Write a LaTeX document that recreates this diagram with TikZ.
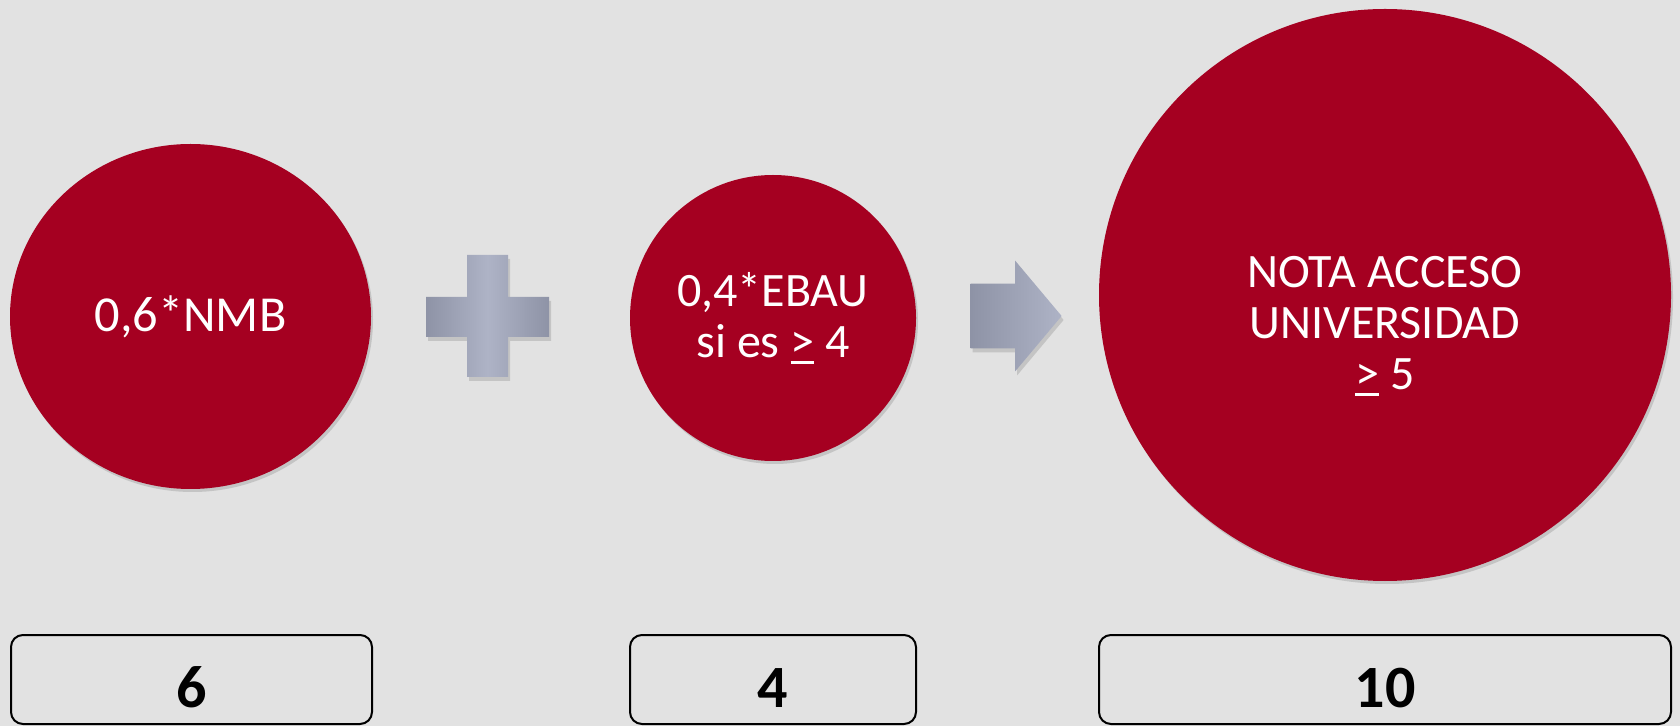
\documentclass[tikz,border=0pt]{standalone}
\usepackage{fontspec}
\setmainfont{Carlito}
\usepackage{xcolor}
\usetikzlibrary{positioning,shapes.geometric,shapes.arrows,shadows}
\definecolor{granate}{HTML}{A50021}
\definecolor{fondo}{HTML}{E2E2E2}
\definecolor{grisosc}{HTML}{8E93A6}
\definecolor{grisclaro}{HTML}{AEB3C6}
\newcommand{\subr}[1]{\setbox0=\hbox{#1}\rlap{\rule[-3.5pt]{\wd0}{1.5pt}}\box0\relax}

\begin{document}
\begin{tikzpicture}[x=.5pt,y=-.5pt,
  bola/.style={ellipse,fill=granate,inner sep=0pt,text=white,align=center,
    font=\fontsize{24}{25.5}\selectfont,
    drop shadow={shadow xshift=1pt,shadow yshift=-1.5pt,opacity=.3}},
  texto/.style={text=white,align=center,inner sep=0pt,font=\fontsize{24}{25.5}\selectfont},
  caja/.style={draw,line width=1pt,rounded corners=6pt,minimum height=44.5pt,
    inner sep=0pt,text height=27.5pt,text depth=0pt,font=\fontsize{30}{30}\selectfont\bfseries},
  gris/.style={left color=grisosc,right color=grisosc,middle color=grisclaro,
    drop shadow={shadow xshift=1pt,shadow yshift=-2pt,opacity=.3}}]
  \fill[fondo](0,0) rectangle (1680,726);
  \useasboundingbox (0,0) rectangle (1680,726);
  % circulos
  \node[bola,minimum width=180.5pt,minimum height=172.5pt,font=\fontsize{25.2}{25.5}\selectfont] at(190.5,316.5)(nmb){0,6*NMB};
  \node[bola,minimum width=143pt,minimum height=143pt] at(773,318)(ebau){0,4*EBAU\\si es \subr{>} 4};
  \node[bola,minimum width=286pt,minimum height=286pt] at(1385,295)(nota){};
  \node[texto] at(1385,326)(notatxt){NOTA ACCESO\\UNIVERSIDAD\\\subr{>} 5};
  % signo mas
  \path[gris](467,255) -- (508,255) -- (508,297) -- (549,297) -- (549,337) -- (508,337)
    -- (508,377) -- (467,377) -- (467,337) -- (426,337) -- (426,297) -- (467,297) -- cycle;
  % flecha
  \node[single arrow,inner xsep=0pt,inner ysep=16pt,minimum height=45.5pt,
    single arrow head extend=11.5pt,single arrow tip angle=100,
    left color=grisosc,right color=grisclaro,
    drop shadow={shadow xshift=1pt,shadow yshift=-2pt,opacity=.3}] at(1002.5,316)(paso){};
  % cajas
  \node[caja,minimum width=180.5pt] at(191.5,679.5)(seis){6};
  \node[caja,minimum width=143pt] at(773,679.5)(cuatro){4};
  \node[caja,minimum width=286pt] at(1385,679.5)(diez){10};
\end{tikzpicture}
\end{document}
